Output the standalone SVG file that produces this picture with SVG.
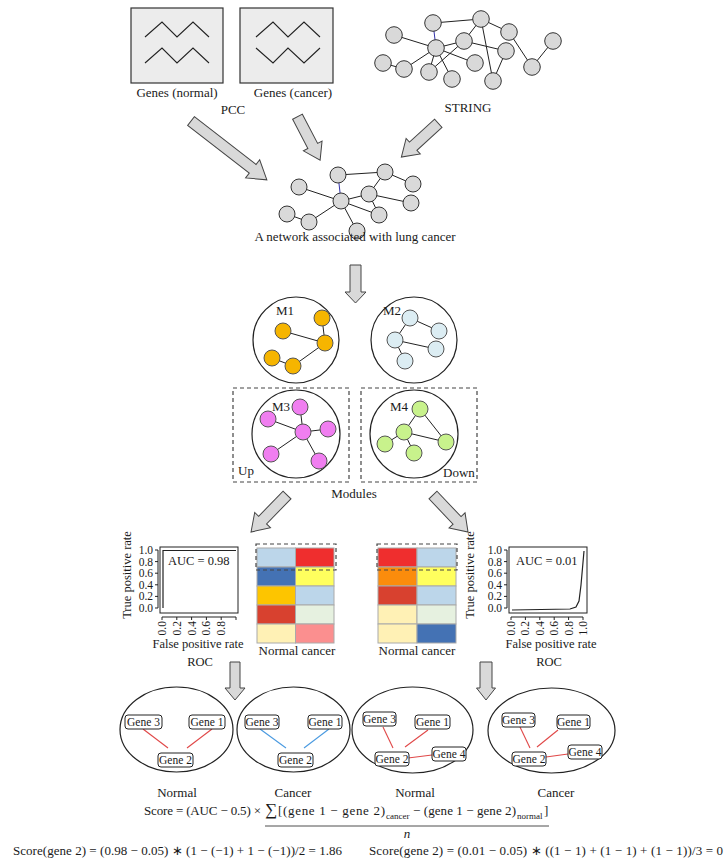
<svg xmlns="http://www.w3.org/2000/svg" width="727" height="868" viewBox="0 0 727 868">
<style>
text{font-family:"Liberation Serif","Times New Roman",serif;fill:#1a1a1a;font-size:13px}
.mid{text-anchor:middle}
.end{text-anchor:end}
.box{fill:#ececec;stroke:#333;stroke-width:1.2}
.zz{fill:none;stroke:#222;stroke-width:1.1}
.e{stroke:#222;stroke-width:1;fill:none}
.eb{stroke:#3333aa;stroke-width:1;fill:none}
.gn{fill:#d9d9d9;stroke:#333;stroke-width:1}
.mc{fill:#fff;stroke:#222;stroke-width:1.2}
.o{fill:#f6b500;stroke:#555;stroke-width:1}
.lb{fill:#dcedf3;stroke:#555;stroke-width:1}
.pk{fill:#f07ef0;stroke:#555;stroke-width:1}
.gr{fill:#c8f28c;stroke:#555;stroke-width:1}
.dash{fill:none;stroke:#444;stroke-width:1.2;stroke-dasharray:4,3}
.arr{fill:#d9d9d9;stroke:#444;stroke-width:1}
.ax{stroke:#222;stroke-width:1;fill:none}
.cell{stroke:#aaa;stroke-width:1}
.ell{fill:none;stroke:#222;stroke-width:1.2}
.gb{fill:#fff;stroke:#222;stroke-width:1}
.rl{stroke:#e04848;stroke-width:1.1}
.bl{stroke:#4a9ae0;stroke-width:1.1}
.gt{font-size:11.5px;text-anchor:middle}
.tk{font-size:12.5px}
.tl{font-size:11.5px}
.sub{font-size:9px}
.sig{font-size:17px}
.it{font-style:italic}
</style>

<g id="genes-normal">
<rect class="box" x="131" y="8" width="92" height="75"/>
<polyline class="zz" points="145,37 162,22 177,37 193,22 209,37"/>
<polyline class="zz" points="145,63 162,48 177,63 193,48 209,63"/>
<text class="mid" x="177" y="97">Genes (normal)</text>
</g>
<g id="genes-cancer">
<rect class="box" x="240" y="8" width="93" height="75"/>
<polyline class="zz" points="256,37 273,22 288,37 304,22 320,37"/>
<polyline class="zz" points="256,48 273,63 288,48 304,63 320,48"/>
<text class="mid" x="293" y="97">Genes (cancer)</text>
</g>
<text id="pcc-label" class="mid" x="233" y="114">PCC</text>

<g id="string-network">
<g>
<line class="e" x1="433" y1="23" x2="481" y2="19"/>
<line class="eb" x1="433" y1="23" x2="436" y2="48"/>
<line class="e" x1="394" y1="35" x2="436" y2="48"/>
<line class="e" x1="481" y1="19" x2="509" y2="32"/>
<line class="e" x1="481" y1="19" x2="464" y2="41"/>
<line class="e" x1="481" y1="19" x2="493" y2="81"/>
<line class="e" x1="436" y1="48" x2="464" y2="41"/>
<line class="e" x1="464" y1="41" x2="506" y2="51"/>
<line class="e" x1="436" y1="48" x2="475" y2="63"/>
<line class="e" x1="436" y1="48" x2="429" y2="72"/>
<line class="e" x1="436" y1="48" x2="404" y2="69"/>
<line class="e" x1="436" y1="48" x2="452" y2="79"/>
<line class="e" x1="383" y1="63" x2="404" y2="69"/>
<line class="e" x1="506" y1="51" x2="493" y2="81"/>
<line class="e" x1="509" y1="32" x2="532" y2="67"/>
<line class="e" x1="532" y1="67" x2="553" y2="41"/>
<line class="e" x1="464" y1="41" x2="429" y2="72"/>
</g>
<circle class="gn" cx="433" cy="23" r="8.3"/>
<circle class="gn" cx="481" cy="19" r="8.3"/>
<circle class="gn" cx="394" cy="35" r="8.3"/>
<circle class="gn" cx="509" cy="32" r="8.3"/>
<circle class="gn" cx="436" cy="48" r="8.3"/>
<circle class="gn" cx="464" cy="41" r="8.3"/>
<circle class="gn" cx="553" cy="41" r="8.3"/>
<circle class="gn" cx="506" cy="51" r="8.3"/>
<circle class="gn" cx="383" cy="63" r="8.3"/>
<circle class="gn" cx="404" cy="69" r="8.3"/>
<circle class="gn" cx="429" cy="72" r="8.3"/>
<circle class="gn" cx="475" cy="63" r="8.3"/>
<circle class="gn" cx="452" cy="79" r="8.3"/>
<circle class="gn" cx="493" cy="81" r="8.3"/>
<circle class="gn" cx="532" cy="67" r="8.3"/>
<text class="mid" x="468" y="112">STRING</text>
</g>

<g id="lung-network">
<g>
<line class="e" x1="338" y1="175" x2="385" y2="172"/>
<line class="eb" x1="338" y1="175" x2="341" y2="201"/>
<line class="e" x1="299" y1="187" x2="341" y2="201"/>
<line class="e" x1="385" y1="172" x2="413" y2="184"/>
<line class="e" x1="385" y1="172" x2="369" y2="194"/>
<line class="e" x1="369" y1="194" x2="411" y2="203"/>
<line class="e" x1="341" y1="201" x2="369" y2="194"/>
<line class="e" x1="369" y1="194" x2="379" y2="215"/>
<line class="e" x1="341" y1="201" x2="379" y2="215"/>
<line class="e" x1="341" y1="201" x2="357" y2="231"/>
<line class="e" x1="341" y1="201" x2="309" y2="222"/>
<line class="e" x1="287" y1="214" x2="309" y2="222"/>
</g>
<circle class="gn" cx="338" cy="175" r="8"/>
<circle class="gn" cx="385" cy="172" r="8"/>
<circle class="gn" cx="299" cy="187" r="8"/>
<circle class="gn" cx="413" cy="184" r="8"/>
<circle class="gn" cx="341" cy="201" r="8"/>
<circle class="gn" cx="369" cy="194" r="8"/>
<circle class="gn" cx="411" cy="203" r="8"/>
<circle class="gn" cx="379" cy="215" r="8"/>
<circle class="gn" cx="287" cy="214" r="8"/>
<circle class="gn" cx="309" cy="222" r="8"/>
<circle class="gn" cx="357" cy="231" r="8"/>
<text class="mid" x="355" y="241">A network associated with lung cancer</text>
</g>

<g id="module-M1">
<circle class="mc" cx="296" cy="340" r="43"/>
<line class="e" x1="283" y1="331" x2="325" y2="343"/>
<line class="e" x1="322" y1="318" x2="325" y2="343"/>
<line class="e" x1="325" y1="343" x2="293" y2="366"/>
<line class="e" x1="272" y1="358" x2="293" y2="366"/>
<circle class="o" cx="283" cy="331" r="8"/>
<circle class="o" cx="322" cy="318" r="8"/>
<circle class="o" cx="325" cy="343" r="8"/>
<circle class="o" cx="272" cy="358" r="8"/>
<circle class="o" cx="293" cy="366" r="8"/>
<text x="276" y="315">M1</text>
</g>
<g id="module-M2">
<circle class="mc" cx="414" cy="340" r="43"/>
<line class="e" x1="410" y1="318" x2="395" y2="340"/>
<line class="e" x1="410" y1="318" x2="439" y2="331"/>
<line class="e" x1="395" y1="340" x2="436" y2="349"/>
<line class="e" x1="395" y1="340" x2="405" y2="361"/>
<circle class="lb" cx="410" cy="318" r="8"/>
<circle class="lb" cx="439" cy="331" r="8"/>
<circle class="lb" cx="395" cy="340" r="8"/>
<circle class="lb" cx="436" cy="349" r="8"/>
<circle class="lb" cx="405" cy="361" r="8"/>
<text x="383" y="315">M2</text>
</g>
<g id="module-M3">
<rect class="dash" x="233" y="388" width="116" height="94"/>
<circle class="mc" cx="296" cy="434" r="44"/>
<line class="e" x1="268" y1="419" x2="303" y2="432"/>
<line class="e" x1="300" y1="407" x2="303" y2="432"/>
<line class="e" x1="303" y1="432" x2="328" y2="429"/>
<line class="e" x1="303" y1="432" x2="271" y2="454"/>
<line class="e" x1="303" y1="432" x2="319" y2="461"/>
<circle class="pk" cx="300" cy="407" r="8"/>
<circle class="pk" cx="268" cy="419" r="8"/>
<circle class="pk" cx="303" cy="432" r="8"/>
<circle class="pk" cx="328" cy="429" r="8"/>
<circle class="pk" cx="271" cy="454" r="8"/>
<circle class="pk" cx="319" cy="461" r="8"/>
<text x="272" y="411">M3</text>
<text x="238" y="475">Up</text>
</g>
<g id="module-M4">
<rect class="dash" x="361" y="388" width="116" height="94"/>
<circle class="mc" cx="414" cy="434" r="44"/>
<line class="e" x1="420" y1="409" x2="404" y2="432"/>
<line class="e" x1="420" y1="409" x2="446" y2="442"/>
<line class="e" x1="404" y1="432" x2="446" y2="442"/>
<line class="e" x1="404" y1="432" x2="385" y2="444"/>
<line class="e" x1="404" y1="432" x2="414" y2="453"/>
<circle class="gr" cx="420" cy="409" r="8"/>
<circle class="gr" cx="404" cy="432" r="8"/>
<circle class="gr" cx="446" cy="442" r="8"/>
<circle class="gr" cx="385" cy="444" r="8"/>
<circle class="gr" cx="414" cy="453" r="8"/>
<text x="390" y="411">M4</text>
<text x="443" y="477">Down</text>
</g>
<text id="modules-label" class="mid" x="354" y="498">Modules</text>

<g id="roc-left">
<rect class="ax" x="160" y="547" width="78" height="66"/>
<path d="M163,608 V550.5 H236" fill="none" stroke="#222" stroke-width="1.2"/>
<path class="ax" d="M158,550 V608 M155,550 H158 M155,561.6 H158 M155,573.2 H158 M155,584.8 H158 M155,596.4 H158 M155,608 H158"/>
<path class="ax" d="M162,617 H236 M162,617 V620 M176.8,617 V620 M191.6,617 V620 M206.4,617 V620 M221.2,617 V620 M236,617 V620"/>
<text class="tl end" x="153" y="554">1.0</text>
<text class="tl end" x="153" y="565.6">0.8</text>
<text class="tl end" x="153" y="577.2">0.6</text>
<text class="tl end" x="153" y="588.8">0.4</text>
<text class="tl end" x="153" y="600.4">0.2</text>
<text class="tl end" x="153" y="612">0.0</text>
<text class="tl end" transform="translate(166,621) rotate(-90)">0.0</text>
<text class="tl end" transform="translate(180.8,621) rotate(-90)">0.2</text>
<text class="tl end" transform="translate(195.6,621) rotate(-90)">0.4</text>
<text class="tl end" transform="translate(210.4,621) rotate(-90)">0.6</text>
<text class="tl end" transform="translate(225.2,621) rotate(-90)">0.8</text>
<text class="tk mid" transform="translate(131,575) rotate(-90)">True positive rate</text>
<text class="tk" x="168" y="565">AUC = 0.98</text>
<text class="tk mid" x="198" y="648">False positive rate</text>
<text class="tk mid" x="200" y="666">ROC</text>
</g>

<g id="heatmap-left">
<rect class="cell" x="257" y="548" width="38.5" height="19" fill="#bcd6ea"/>
<rect class="cell" x="295.5" y="548" width="38.5" height="19" fill="#ef2e2e"/>
<rect class="cell" x="257" y="567" width="38.5" height="19" fill="#4472b4"/>
<rect class="cell" x="295.5" y="567" width="38.5" height="19" fill="#ffff5e"/>
<rect class="cell" x="257" y="586" width="38.5" height="19" fill="#fdc500"/>
<rect class="cell" x="295.5" y="586" width="38.5" height="19" fill="#bcd6ea"/>
<rect class="cell" x="257" y="605" width="38.5" height="19" fill="#d8412f"/>
<rect class="cell" x="295.5" y="605" width="38.5" height="19" fill="#e6f1e0"/>
<rect class="cell" x="257" y="624" width="38.5" height="19" fill="#fff1b5"/>
<rect class="cell" x="295.5" y="624" width="38.5" height="19" fill="#fb8f8f"/>
<rect class="dash" x="256" y="544" width="80" height="26"/>
<text class="mid" x="297" y="655">Normal cancer</text>
</g>

<g id="heatmap-right">
<rect class="cell" x="378" y="548" width="39" height="19" fill="#ef2e2e"/>
<rect class="cell" x="417" y="548" width="39" height="19" fill="#bcd6ea"/>
<rect class="cell" x="378" y="567" width="39" height="19" fill="#fb8c0c"/>
<rect class="cell" x="417" y="567" width="39" height="19" fill="#ffff5e"/>
<rect class="cell" x="378" y="586" width="39" height="19" fill="#d8412f"/>
<rect class="cell" x="417" y="586" width="39" height="19" fill="#bcd6ea"/>
<rect class="cell" x="378" y="605" width="39" height="19" fill="#fff1b5"/>
<rect class="cell" x="417" y="605" width="39" height="19" fill="#e6f1e0"/>
<rect class="cell" x="378" y="624" width="39" height="19" fill="#fff1b5"/>
<rect class="cell" x="417" y="624" width="39" height="19" fill="#4472b4"/>
<rect class="dash" x="377" y="544" width="80" height="26"/>
<text class="mid" x="417" y="655">Normal cancer</text>
</g>

<g id="roc-right">
<rect class="ax" x="509" y="547" width="78" height="66"/>
<path d="M512,610 L570,609 L576,607 L579,601 L581,585 L584,551" fill="none" stroke="#222" stroke-width="1.2"/>
<path class="ax" d="M507,550 V608 M504,550 H507 M504,561.6 H507 M504,573.2 H507 M504,584.8 H507 M504,596.4 H507 M504,608 H507"/>
<path class="ax" d="M511,617 H583 M511,617 V620 M525.4,617 V620 M539.8,617 V620 M554.2,617 V620 M568.6,617 V620 M583,617 V620"/>
<text class="tl end" x="502" y="554">1.0</text>
<text class="tl end" x="502" y="565.6">0.8</text>
<text class="tl end" x="502" y="577.2">0.6</text>
<text class="tl end" x="502" y="588.8">0.4</text>
<text class="tl end" x="502" y="600.4">0.2</text>
<text class="tl end" x="502" y="612">0.0</text>
<text class="tl end" transform="translate(515,621) rotate(-90)">0.0</text>
<text class="tl end" transform="translate(529.4,621) rotate(-90)">0.2</text>
<text class="tl end" transform="translate(543.8,621) rotate(-90)">0.4</text>
<text class="tl end" transform="translate(558.2,621) rotate(-90)">0.6</text>
<text class="tl end" transform="translate(572.6,621) rotate(-90)">0.8</text>
<text class="tl end" transform="translate(587,621) rotate(-90)">1.0</text>
<text class="tk mid" transform="translate(474,575) rotate(-90)">True positive rate</text>
<text class="tk" x="516" y="565">AUC = 0.01</text>
<text class="tk mid" x="551" y="648">False positive rate</text>
<text class="tk mid" x="549" y="666">ROC</text>
</g>

<g id="pair-up-normal">
<ellipse class="ell" cx="176.5" cy="729.5" rx="56.5" ry="42.5"/>
<line class="rl" x1="143" y1="729" x2="168" y2="748"/>
<line class="rl" x1="212" y1="729" x2="187" y2="748"/>
<rect class="gb" x="125" y="715" width="37" height="14" rx="3"/>
<text class="gt" x="143.5" y="726">Gene 3</text>
<rect class="gb" x="189" y="715" width="36" height="14" rx="3"/>
<text class="gt" x="207" y="726">Gene 1</text>
<rect class="gb" x="158" y="753" width="35" height="14" rx="3"/>
<text class="gt" x="175.5" y="764">Gene 2</text>
<text class="mid" x="177" y="797">Normal</text>
</g>
<g id="pair-up-cancer">
<ellipse class="ell" cx="293.5" cy="729.5" rx="56.5" ry="42.5"/>
<line class="bl" x1="260" y1="729" x2="286" y2="748"/>
<line class="bl" x1="329" y1="729" x2="304" y2="748"/>
<rect class="gb" x="245" y="715" width="34" height="14" rx="3"/>
<text class="gt" x="262" y="726">Gene 3</text>
<rect class="gb" x="308" y="715" width="34" height="14" rx="3"/>
<text class="gt" x="325" y="726">Gene 1</text>
<rect class="gb" x="278" y="753" width="35" height="14" rx="3"/>
<text class="gt" x="295.5" y="764">Gene 2</text>
<text class="mid" x="293" y="797">Cancer</text>
</g>
<g id="pair-down-normal">
<ellipse class="ell" cx="412.5" cy="730" rx="60.5" ry="43"/>
<line class="rl" x1="383" y1="727" x2="393" y2="748"/>
<line class="rl" x1="428" y1="730" x2="405" y2="747"/>
<line class="rl" x1="408" y1="758" x2="432" y2="755"/>
<rect class="gb" x="363" y="712" width="33" height="14" rx="3"/>
<text class="gt" x="379.5" y="723">Gene 3</text>
<rect class="gb" x="415" y="715" width="35" height="14" rx="3"/>
<text class="gt" x="432.5" y="726">Gene 1</text>
<rect class="gb" x="375" y="752" width="34" height="14" rx="3"/>
<text class="gt" x="392" y="763">Gene 2</text>
<rect class="gb" x="432" y="747" width="34" height="14" rx="3"/>
<text class="gt" x="449" y="758">Gene 4</text>
<text class="mid" x="415" y="797">Normal</text>
</g>
<g id="pair-down-cancer">
<ellipse class="ell" cx="551.5" cy="730.5" rx="63.5" ry="42.5"/>
<line class="rl" x1="520" y1="727" x2="530" y2="748"/>
<line class="rl" x1="558" y1="730" x2="537" y2="747"/>
<line class="rl" x1="546" y1="757" x2="568" y2="754"/>
<rect class="gb" x="502" y="713" width="33" height="14" rx="3"/>
<text class="gt" x="518.5" y="724">Gene 3</text>
<rect class="gb" x="557" y="715" width="33" height="14" rx="3"/>
<text class="gt" x="573.5" y="726">Gene 1</text>
<rect class="gb" x="512" y="752" width="34" height="14" rx="3"/>
<text class="gt" x="529" y="763">Gene 2</text>
<rect class="gb" x="568" y="745" width="34" height="14" rx="3"/>
<text class="gt" x="585" y="756">Gene 4</text>
<text class="mid" x="556" y="797">Cancer</text>
</g>

<g id="formula">
<text x="144" y="815" textLength="117" lengthAdjust="spacing">Score = (AUC − 0.5) ×</text>
<text class="sig" x="265" y="815">∑</text>
<text x="278" y="815" textLength="107" lengthAdjust="spacing">[(gene 1 − gene 2)</text>
<text class="sub" x="386" y="819">cancer</text>
<text x="413" y="815" textLength="103" lengthAdjust="spacing">− (gene 1 − gene 2)</text>
<text class="sub" x="517" y="819">normal</text>
<text x="544" y="815">]</text>
<line x1="265" y1="826" x2="549" y2="826" stroke="#222" stroke-width="0.8"/>
<text class="mid it" x="407" y="838">n</text>
<text x="13" y="855" textLength="329" lengthAdjust="spacing">Score(gene 2) = (0.98 − 0.05) ∗ (1 − (−1) + 1 − (−1))/2 = 1.86</text>
<text x="369" y="855" textLength="354" lengthAdjust="spacing">Score(gene 2) = (0.01 − 0.05) ∗ ((1 − 1) + (1 − 1) + (1 − 1))/3 = 0</text>
</g>

<g id="connectors">
<polygon class="arr" points="0,-5.5 78,-5.5 78,-11.5 96,0 78,11.5 78,5.5 0,5.5" transform="translate(191,121) rotate(37.8)"/>
<polygon class="arr" points="0,-5.5 33,-5.5 33,-10.5 49,0 33,10.5 33,5.5 0,5.5" transform="translate(297.5,116.7) rotate(62.5)"/>
<polygon class="arr" points="0,-5.5 34,-5.5 34,-10.5 50,0 34,10.5 34,5.5 0,5.5" transform="translate(438.3,123.3) rotate(137.6)"/>
<polygon class="arr" points="0,-5.5 27,-5.5 27,-10.5 38,0 27,10.5 27,5.5 0,5.5" transform="translate(355.5,265) rotate(90)"/>
<polygon class="arr" points="0,-5.5 35,-5.5 35,-11 51.6,0 35,11 35,5.5 0,5.5" transform="translate(287,495) rotate(134.2)"/>
<polygon class="arr" points="0,-5.5 35,-5.5 35,-11 51,0 35,11 35,5.5 0,5.5" transform="translate(433,495) rotate(46.6)"/>
<polygon class="arr" points="0,-5 26,-5 26,-10 38,0 26,10 26,5 0,5" transform="translate(235,662) rotate(90)"/>
<polygon class="arr" points="0,-6 26,-6 26,-9.5 38,0 26,9.5 26,6 0,6" transform="translate(486,662) rotate(90)"/>
</g>
</svg>
